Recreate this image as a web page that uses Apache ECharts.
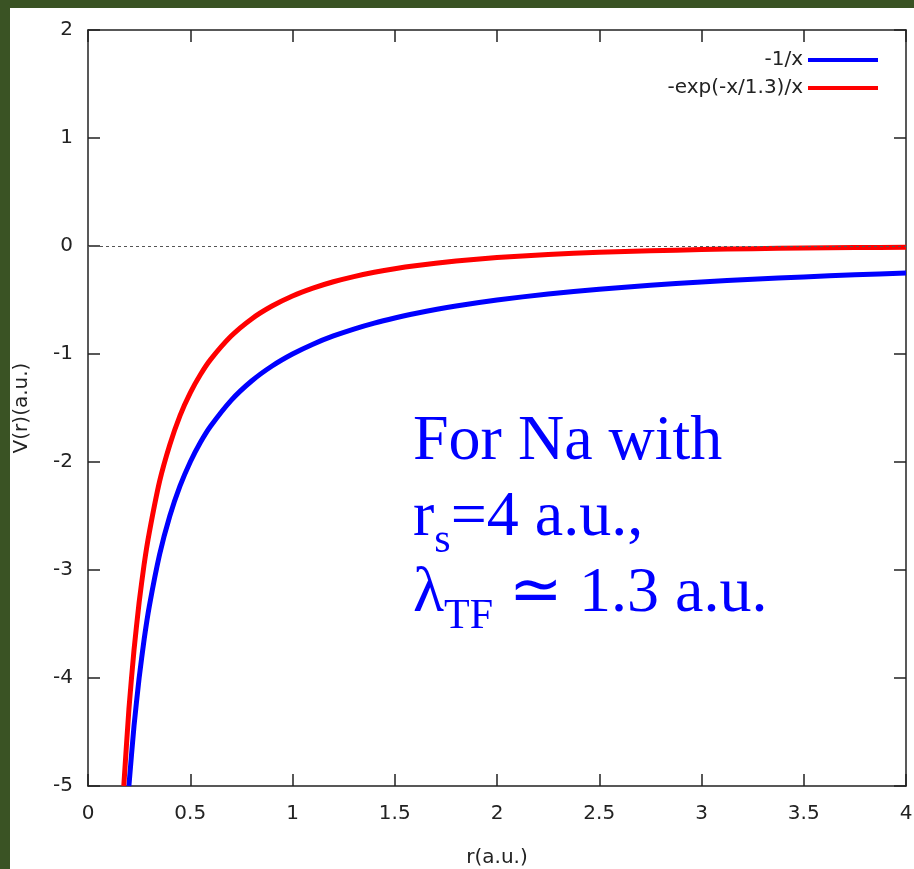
<!DOCTYPE html>
<html>
<head>
<meta charset="utf-8">
<style>
html, body { margin: 0; padding: 0; background: #3a5324; }
#main { width: 914px; height: 869px; }
</style>
<script src="https://cdn.jsdelivr.net/npm/echarts@6/dist/echarts.min.js"></script>
</head>
<body>
<div id="main"></div>
<script type="text/javascript">
// values
var seriesNames = ['-1/x', '-exp(-x/1.3)/x'];
var blueX = [0.2, 0.225, 0.25, 0.275, 0.3, 0.35, 0.4, 0.45, 0.5, 0.55, 0.6, 0.7, 0.8, 0.9, 1, 1.1, 1.2, 1.3, 1.4, 1.5, 1.6, 1.8, 2, 2.25, 2.5, 2.75, 3, 3.25, 3.5, 3.75, 4];
var blueY = [-5, -4.444, -4, -3.636, -3.333, -2.857, -2.5, -2.222, -2, -1.818, -1.667, -1.429, -1.25, -1.111, -1, -0.909, -0.833, -0.769, -0.714, -0.667, -0.625, -0.556, -0.5, -0.444, -0.4, -0.364, -0.333, -0.308, -0.286, -0.267, -0.25];
var redX = [0.175, 0.2, 0.225, 0.25, 0.275, 0.3, 0.35, 0.4, 0.45, 0.5, 0.55, 0.6, 0.7, 0.8, 0.9, 1, 1.1, 1.2, 1.3, 1.4, 1.5, 1.6, 1.8, 2, 2.25, 2.5, 2.75, 3, 3.25, 3.5, 3.75, 4];
var redY = [-5, -4.29, -3.74, -3.3, -2.94, -2.65, -2.18, -1.84, -1.57, -1.36, -1.19, -1.05, -0.834, -0.675, -0.556, -0.463, -0.39, -0.331, -0.283, -0.243, -0.21, -0.183, -0.139, -0.107, -0.079, -0.058, -0.044, -0.033, -0.025, -0.019, -0.015, -0.012];

function pairs(xs, ys) {
    return xs.map(function (x, i) { return [x, ys[i]]; });
}

var myChart = echarts.init(document.getElementById('main'));

var frame = { show: true, onZero: false, lineStyle: { color: '#222', width: 1.5 } };
var ticks = { show: true, inside: true, length: 12, lineStyle: { color: '#222', width: 1.5 } };
var labelFont = { fontFamily: 'DejaVu Sans', fontSize: 20, color: '#222' };

var option = {
    animation: false,
    backgroundColor: '#ffffff',
    grid: { left: 88, right: 8, top: 30, bottom: 83, containLabel: false, outerBoundsMode: 'none' },
    legend: {
        data: seriesNames,
        orient: 'vertical',
        align: 'right',
        right: 31,
        top: 45,
        itemGap: 8,
        icon: 'rect',
        itemWidth: 70,
        itemHeight: 4,
        textStyle: labelFont
    },
    xAxis: [{
        type: 'value', min: 0, max: 4, interval: 0.5, position: 'bottom',
        axisLine: frame, axisTick: ticks, splitLine: { show: false },
        axisLabel: Object.assign({ margin: 18 }, labelFont),
        name: 'r(a.u.)', nameLocation: 'middle', nameGap: 62,
        nameTextStyle: labelFont
    }, {
        type: 'value', min: 0, max: 4, interval: 0.5, position: 'top',
        axisLine: frame, axisTick: ticks, splitLine: { show: false },
        axisLabel: { show: false }
    }],
    yAxis: [{
        type: 'value', min: -5, max: 2, interval: 1, position: 'left',
        axisLine: frame, axisTick: ticks, splitLine: { show: false },
        axisLabel: Object.assign({ margin: 15 }, labelFont),
        name: 'V(r)(a.u.)', nameLocation: 'middle', nameGap: 56,
        nameTextStyle: labelFont
    }, {
        type: 'value', min: -5, max: 2, interval: 1, position: 'right',
        axisLine: frame, axisTick: ticks, splitLine: { show: false },
        axisLabel: { show: false }
    }],
    series: [{
        name: seriesNames[0],
        type: 'line',
        smooth: 0.2,
        symbol: 'none',
        data: pairs(blueX, blueY),
        lineStyle: { color: '#0000ff', width: 5 },
        itemStyle: { color: '#0000ff' },
        z: 3,
        markLine: {
            silent: true,
            symbol: 'none',
            label: { show: false },
            lineStyle: { color: '#555', width: 1.2, type: [3, 3] },
            data: [{ yAxis: 0 }]
        }
    }, {
        name: seriesNames[1],
        type: 'line',
        smooth: 0.2,
        symbol: 'none',
        data: pairs(redX, redY),
        lineStyle: { color: '#ff0000', width: 5 },
        itemStyle: { color: '#ff0000' },
        z: 4
    }],
    graphic: [
        { type: 'rect', left: 0, top: 0, shape: { width: 10, height: 869 }, style: { fill: '#3a5324' } },
        { type: 'rect', left: 0, top: 0, shape: { width: 914, height: 8 }, style: { fill: '#3a5324' } },
        {
            type: 'text', left: 413, top: 404, z: 10,
            style: {
                text: 'For Na with\nr{sub|s}=4 a.u.,\nλ{sub|TF} ≃ 1.3 a.u.',
                fill: '#0000ff',
                fontFamily: 'Liberation Serif',
                fontSize: 64,
                lineHeight: 76,
                rich: {
                    sub: { fontFamily: 'Liberation Serif', fontSize: 42, fill: '#0000ff', lineHeight: 30, padding: [46, 0, 0, 0] }
                }
            }
        }
    ]
};
myChart.setOption(option);
</script>
</body>
</html>
